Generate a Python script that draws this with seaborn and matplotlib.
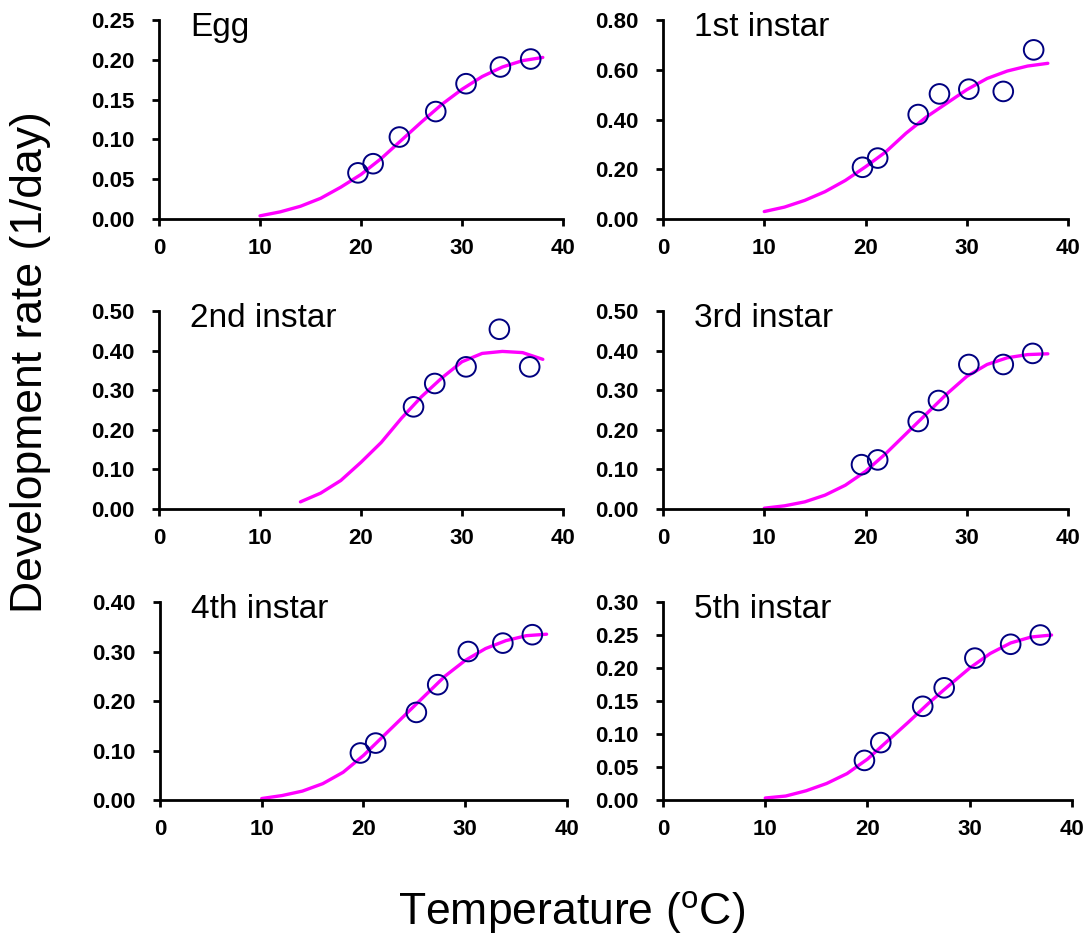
import matplotlib
matplotlib.use("Agg")
import matplotlib.pyplot as plt
import seaborn as sns
import pandas as pd

# ---------------- data ----------------
stage_names = ["Egg", "1st instar", "2nd instar", "3rd instar", "4th instar", "5th instar"]
y_max = [0.25, 0.80, 0.50, 0.50, 0.40, 0.30]
y_step = [0.05, 0.20, 0.10, 0.10, 0.10, 0.05]
x_ticks = [0, 10, 20, 30, 40]

egg_temp = [19.7, 21.2, 23.8, 27.4, 30.4, 33.8, 36.8]
egg_rate = [0.058, 0.0695, 0.103, 0.135, 0.170, 0.191, 0.201]
i1_temp = [19.7, 21.2, 25.2, 27.3, 30.2, 33.6, 36.6]
i1_rate = [0.208, 0.245, 0.420, 0.503, 0.522, 0.513, 0.680]
i2_temp = [25.2, 27.3, 30.4, 33.7, 36.7]
i2_rate = [0.258, 0.317, 0.359, 0.454, 0.359]
i3_temp = [19.6, 21.2, 25.2, 27.2, 30.2, 33.6, 36.5]
i3_rate = [0.112, 0.124, 0.221, 0.274, 0.365, 0.365, 0.393]
i4_temp = [19.7, 21.2, 25.2, 27.3, 30.3, 33.7, 36.6]
i4_rate = [0.095, 0.115, 0.177, 0.233, 0.300, 0.317, 0.334]
i5_temp = [19.7, 21.3, 25.4, 27.5, 30.5, 34.0, 36.9]
i5_rate = [0.060, 0.087, 0.142, 0.170, 0.215, 0.236, 0.250]

curve_t = [10, 12, 14, 16, 18, 20, 22, 24, 26, 28, 30, 32, 34, 36, 38]
egg_fit = [0.004, 0.009, 0.016, 0.026, 0.040, 0.056, 0.076, 0.099, 0.122, 0.144, 0.163, 0.179, 0.191, 0.199, 0.203]
i1_fit = [0.030, 0.048, 0.075, 0.110, 0.155, 0.210, 0.270, 0.345, 0.410, 0.465, 0.520, 0.565, 0.595, 0.615, 0.626]
i2_curve_t = [14, 16, 18, 20, 22, 24, 26, 28, 30, 32, 34, 36, 38]
i2_fit = [0.018, 0.040, 0.072, 0.118, 0.168, 0.229, 0.284, 0.331, 0.372, 0.393, 0.398, 0.395, 0.378]
i3_fit = [0.002, 0.008, 0.018, 0.035, 0.060, 0.095, 0.140, 0.190, 0.240, 0.290, 0.335, 0.365, 0.382, 0.390, 0.392]
i4_fit = [0.003, 0.009, 0.018, 0.033, 0.056, 0.090, 0.130, 0.170, 0.210, 0.250, 0.282, 0.306, 0.322, 0.332, 0.335]
i5_fit = [0.003, 0.006, 0.014, 0.025, 0.040, 0.062, 0.090, 0.118, 0.147, 0.174, 0.200, 0.222, 0.238, 0.247, 0.250]

obs_temps = [egg_temp, i1_temp, i2_temp, i3_temp, i4_temp, i5_temp]
obs_rates = [egg_rate, i1_rate, i2_rate, i3_rate, i4_rate, i5_rate]
fit_temps = [curve_t, curve_t, i2_curve_t, curve_t, curve_t, curve_t]
fit_rates = [egg_fit, i1_fit, i2_fit, i3_fit, i4_fit, i5_fit]

# ---------------- style ----------------
sns.set_style("ticks")
plt.rcParams["font.family"] = ["Liberation Sans", "DejaVu Sans"]
plt.rcParams["mathtext.fontset"] = "custom"
plt.rcParams["mathtext.rm"] = "Liberation Sans"
plt.rcParams["text.color"] = "black"
plt.rcParams["axes.labelcolor"] = "black"

fig = plt.figure(figsize=(10.89, 9.36), dpi=100)

positions = [
    [0.146, 0.766, 0.371, 0.2126],
    [0.6088, 0.766, 0.372, 0.2126],
    [0.146, 0.4562, 0.371, 0.2115],
    [0.6088, 0.4562, 0.372, 0.2115],
    [0.1469, 0.1453, 0.3737, 0.2115],
    [0.6088, 0.1453, 0.3756, 0.2115],
]

for i in range(6):
    ax = fig.add_axes(positions[i])
    dfit = pd.DataFrame({"t": fit_temps[i], "r": fit_rates[i]})
    dobs = pd.DataFrame({"t": obs_temps[i], "r": obs_rates[i]})
    sns.lineplot(data=dfit, x="t", y="r", ax=ax, color="#FF00FF", linewidth=2.4,
                 sort=False, estimator=None, zorder=2)
    sns.scatterplot(data=dobs, x="t", y="r", ax=ax, marker="o", s=200,
                    facecolors="none", edgecolor="#000080", linewidth=1.4, zorder=3)
    ax.set_xlim(0, 40)
    ax.set_ylim(0, y_max[i])
    ax.set_xticks(x_ticks)
    n = int(round(y_max[i] / y_step[i]))
    yt = [round(k * y_step[i], 2) for k in range(n + 1)]
    ax.set_yticks(yt)
    ax.set_yticklabels([f"{v:.2f}" for v in yt])
    ax.set_xlabel("")
    ax.set_ylabel("")
    sns.despine(ax=ax)
    for s in ["left", "bottom"]:
        ax.spines[s].set_linewidth(2.0)
        ax.spines[s].set_color("black")
    ax.tick_params(axis="both", direction="out", length=5, width=2.0,
                   colors="black", labelcolor="black")
    ax.tick_params(axis="y", pad=12.5)
    ax.tick_params(axis="x", pad=9)
    for lab in ax.get_xticklabels() + ax.get_yticklabels():
        lab.set_fontsize(16)
        lab.set_fontweight("bold")
    ax.text(0.077, 0.92, stage_names[i], transform=ax.transAxes, fontsize=24,
            ha="left", va="baseline", color="black")
    for c in ax.collections + ax.lines:
        c.set_clip_on(False)

fig.text(0.028, 0.613, "Development rate (1/day)", rotation=90, fontsize=32,
         ha="center", va="center", color="black")
fig.text(0.525, 0.012, r"Temperature ($^{\mathregular{o}}$C)", fontsize=32,
         ha="center", va="baseline", color="black")

fig.savefig("out.png", dpi=100)
